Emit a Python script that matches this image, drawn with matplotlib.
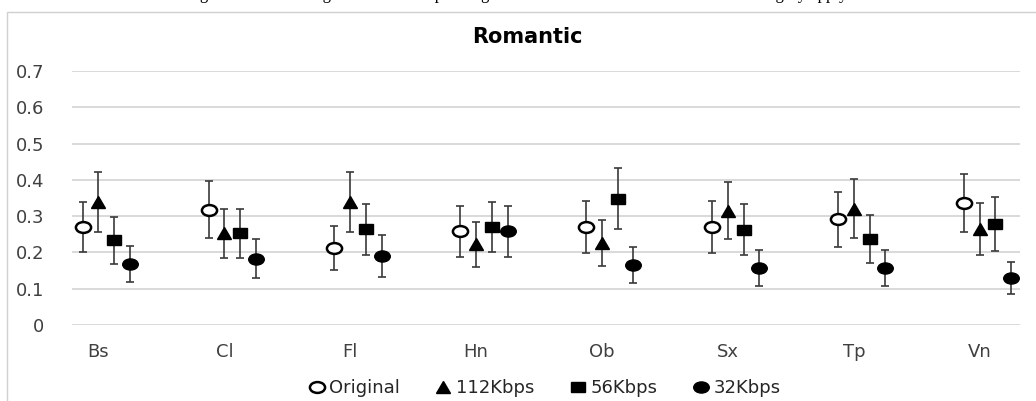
import matplotlib
matplotlib.use("Agg")
import matplotlib.pyplot as plt
from matplotlib.lines import Line2D
from matplotlib.markers import MarkerStyle
from matplotlib.patches import Rectangle
from matplotlib.transforms import Affine2D

# данные
instruments = ["Bs", "Cl", "Fl", "Hn", "Ob", "Sx", "Tp", "Vn"]
series_names = ["Original", "112Kbps", "56Kbps", "32Kbps"]

original = [0.270, 0.318, 0.212, 0.258, 0.270, 0.271, 0.291, 0.335]
kbps112 = [0.340, 0.253, 0.340, 0.222, 0.226, 0.315, 0.321, 0.264]
kbps56 = [0.233, 0.253, 0.264, 0.270, 0.348, 0.263, 0.237, 0.278]
kbps32 = [0.168, 0.183, 0.190, 0.258, 0.165, 0.158, 0.158, 0.130]

err_original = [0.070, 0.079, 0.060, 0.070, 0.072, 0.072, 0.075, 0.080]
err_112 = [0.083, 0.067, 0.083, 0.063, 0.063, 0.078, 0.080, 0.071]
err_56 = [0.065, 0.067, 0.070, 0.070, 0.084, 0.070, 0.065, 0.075]
err_32 = [0.050, 0.053, 0.057, 0.070, 0.050, 0.050, 0.050, 0.045]

values = [original, kbps112, kbps56, kbps32]
errors = [err_original, err_112, err_56, err_32]

W, H = 1036, 401
fig = plt.figure(figsize=(W / 100, H / 100), dpi=100)

# рамка области диаграммы (обрезана справа и снизу)
fig.patches.append(Rectangle((7 / W, -0.2), 1.2, 1 - 12 / H + 0.2,
                             transform=fig.transFigure, fill=False,
                             edgecolor="#d0d0d0", linewidth=1.0))

# подпись рисунка сверху: видны только нижние части букв
fig.text(0.5, 1 + 1 / H,
         "Figure 6. Mean ratings and the corresponding confidence intervals "
         "for the Romantic category apply.",
         ha="center", va="baseline", fontsize=12,
         family="Liberation Serif", color="black")

ax = fig.add_axes([72 / W, (H - 325) / H, 948 / W, 254 / H])

markers = [MarkerStyle("o", transform=Affine2D().scale(1.4, 1.0)),
           MarkerStyle("^", transform=Affine2D().scale(1.2, 1.0)),
           MarkerStyle("s", transform=Affine2D().scale(1.35, 1.0)),
           MarkerStyle("o", transform=Affine2D().scale(1.4, 1.0))]
faces = ["white", "black", "black", "black"]
sizes = [7.8, 8.4, 7.8, 8.0]
edges = [1.8, 1.0, 1.0, 1.0]
offsets = [-0.125, 0.0, 0.125, 0.25]

xs = list(range(len(instruments)))
for vals, errs, m, fc, ms, ew, off in zip(values, errors, markers, faces,
                                          sizes, edges, offsets):
    ax.errorbar([x + off for x in xs], vals, yerr=errs, fmt="none",
                ecolor="#3a3a3a", elinewidth=1.2, capsize=2.8, capthick=1.2,
                zorder=2)
    ax.plot([x + off for x in xs], vals, linestyle="none", marker=m,
            markersize=ms, markerfacecolor=fc, markeredgecolor="black",
            markeredgewidth=ew, zorder=3)

ax.set_xlim(-0.21, 7.32)
ax.set_ylim(0, 0.7)
ax.set_yticks([0, 0.1, 0.2, 0.3, 0.4, 0.5, 0.6, 0.7])
ax.set_yticklabels(["0", "0.1", "0.2", "0.3", "0.4", "0.5", "0.6", "0.7"])
ax.set_xticks(xs)
ax.set_xticklabels(instruments)
ax.tick_params(length=0, labelsize=13, labelcolor="#404040")
ax.tick_params(axis="y", pad=20)
ax.tick_params(axis="x", pad=13)
ax.grid(True, axis="y", color="#d9d9d9", linewidth=1.4)
ax.set_axisbelow(True)
for s in ax.spines.values():
    s.set_visible(False)

fig.text(527 / W, 1 - 37 / H, "Romantic", ha="center", va="center",
         fontsize=15, fontweight="bold", color="black")

handles = [Line2D([], [], linestyle="none", marker=m, markersize=ms,
                  markerfacecolor=fc, markeredgecolor="black",
                  markeredgewidth=ew)
           for m, fc, ms, ew in zip(markers, faces, sizes, edges)]
fig.legend(handles, series_names, loc="center", ncol=4,
           bbox_to_anchor=(544 / W, 13 / H), frameon=False, fontsize=13,
           handletextpad=0.2, columnspacing=1.9, handlelength=1.0,
           labelcolor="#262626")

fig.savefig("out.png", dpi=100)
